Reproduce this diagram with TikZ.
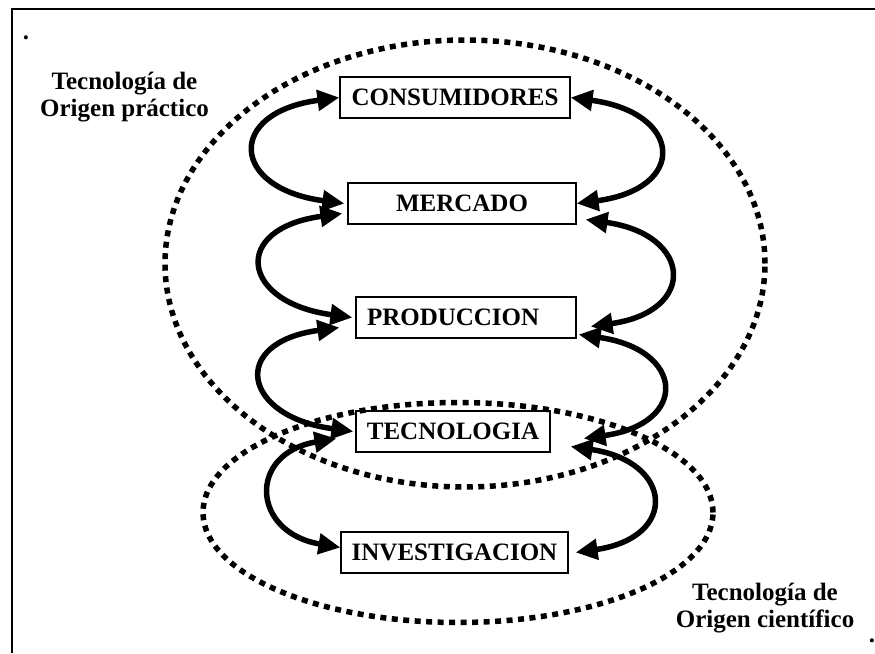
\documentclass[tikz,border=0pt]{standalone}
\usepackage{fontspec}
\setmainfont{Liberation Serif}
\usetikzlibrary{arrows.meta}

\begin{document}
\begin{tikzpicture}[x=1pt,y=-1pt,
  caja/.style={draw,line width=1.2pt,inner sep=0pt,minimum height=41pt,font=\fontsize{25}{27}\selectfont\bfseries},
  rotulo/.style={align=center,inner sep=0pt,font=\fontsize{25}{27}\selectfont\bfseries},
  flecha/.style={line width=5.5pt,{Triangle[length=22pt,width=20pt]}-{Triangle[length=22pt,width=20pt]}},
  punteado/.style={line width=5.5pt,dash pattern=on 6pt off 5.5pt}]
\useasboundingbox (0,0) rectangle (875,653);
\draw[line width=2pt] (12,653) -- (12,9) -- (875,9);
\node[rotulo,anchor=base] (punto1) at (26,39) {.};
\node[rotulo,anchor=base] (punto2) at (872,642) {.};
\draw[punteado] (465,263.5) ellipse [x radius=300pt,y radius=223.5pt];
\draw[punteado] (458,512.5) ellipse [x radius=255pt,y radius=110pt];
\node[rotulo] (practico) at (124.5,97) {Tecnología de\\Origen práctico};
\node[rotulo] (cientifico) at (765,608) {Tecnología de\\Origen científico};
\node[caja,minimum width=230pt] (cons) at (455,97.5) {CONSUMIDORES};
\node[caja,minimum width=228pt] (merc) at (462,203.5) {MERCADO};
\node[caja,minimum width=220pt,text width=198pt,align=left] (prod) at (466,317.5) {PRODUCCION};
\node[caja,minimum width=194pt] (tecn) at (453,431.5) {TECNOLOGIA};
\node[caja,minimum width=227pt] (inv) at (454.5,552.5) {INVESTIGACION};
\draw[flecha] (cons.west) .. controls +(-114,15) and +(-114,-15) .. ([xshift=-3pt]merc.west);
\draw[flecha] ([xshift=-5pt,yshift=-10pt]merc.west) .. controls +(-112,15) and +(-112,-15) .. ([xshift=-3pt]prod.west);
\draw[flecha] ([xshift=-16pt,yshift=-10pt]prod.west) .. controls +(-111,15) and +(-111,-15) .. ([xshift=-2pt]tecn.west);
\draw[flecha] ([xshift=-19pt,yshift=-7pt]tecn.west) .. controls +(-89,15) and +(-89,-15) .. ([yshift=5pt]inv.west);
\draw[flecha] (cons.east) .. controls +(112,15) and +(112,-15) .. (merc.east);
\draw[flecha] ([xshift=9pt,yshift=-16pt]merc.east) .. controls +(107,15) and +(107,-15) .. ([xshift=14pt,yshift=-9pt]prod.east);
\draw[flecha] ([xshift=2pt,yshift=-17pt]prod.east) .. controls +(106,15) and +(106,-15) .. ([xshift=33pt,yshift=-7pt]tecn.east);
\draw[flecha] ([xshift=20pt,yshift=-15pt]tecn.east) .. controls +(103,15) and +(103,-15) .. ([xshift=7pt]inv.east);
\end{tikzpicture}
\end{document}
